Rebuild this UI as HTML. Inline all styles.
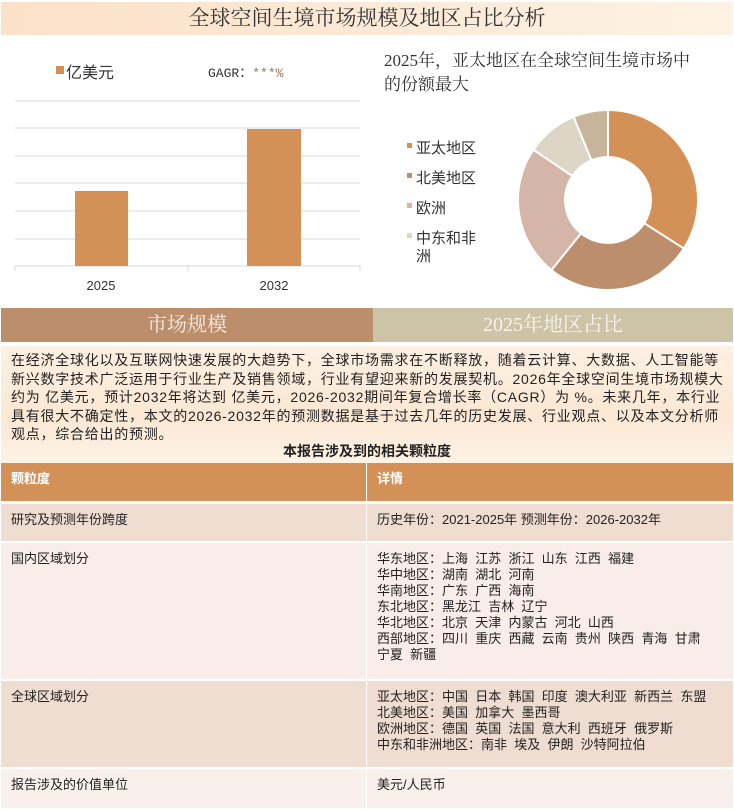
<!DOCTYPE html><html><head><meta charset="utf-8"><style>
body{margin:0;width:734px;height:810px;background:#fff;font-family:"Liberation Serif","Noto Serif CJK SC","Noto Sans CJK SC",serif;position:relative;overflow:hidden;color:#222}
.a{position:absolute}
.cell{position:absolute;font-size:13px;line-height:16px;padding:8px 10px;box-sizing:border-box;font-family:"Liberation Sans","Noto Sans CJK SC",sans-serif;white-space:pre-wrap}
</style></head><body>
<div class="a" style="left:1px;top:2px;width:732px;height:33px;background:linear-gradient(90deg,#fbe1c8,#fdf2e4);text-align:center;font-size:21px;line-height:33px;color:#333">全球空间生境市场规模及地区占比分析</div>
<svg class="a" style="left:0;top:0" width="734" height="300">
<g stroke="#d9d9d9" stroke-width="1">
<line x1="15" x2="360" y1="101" y2="101"/><line x1="15" x2="360" y1="128" y2="128"/><line x1="15" x2="360" y1="156" y2="156"/><line x1="15" x2="360" y1="183" y2="183"/><line x1="15" x2="360" y1="211" y2="211"/><line x1="15" x2="360" y1="239" y2="239"/><line x1="15" x2="360" y1="266" y2="266"/>
<line x1="15" x2="15" y1="266" y2="271"/><line x1="188" x2="188" y1="266" y2="271"/><line x1="360" x2="360" y1="266" y2="271"/></g>
<rect x="75" y="191" width="53" height="75" fill="#d49157"/>
<rect x="247" y="129" width="54" height="137" fill="#d49157"/>
<text x="101" y="290" font-size="13" text-anchor="middle" fill="#333" font-family="Liberation Sans,sans-serif">2025</text>
<text x="274" y="290" font-size="13" text-anchor="middle" fill="#333" font-family="Liberation Sans,sans-serif">2032</text>
<rect x="56" y="66" width="8" height="8" fill="#d49157"/>
<text x="66" y="78" font-size="16" fill="#333" font-family="Liberation Sans,Noto Sans CJK SC,sans-serif">亿美元</text>
<text x="208" y="77" font-size="13" fill="#333" font-family="Liberation Mono,monospace">GAGR：<tspan fill="#a0724f">***%</tspan></text>
<text x="384" y="66" font-size="17" fill="#333">2025年，亚太地区在全球空间生境市场中</text>
<text x="384" y="90" font-size="17" fill="#333">的份额最大</text>
<g font-size="15" fill="#333" font-family="Liberation Sans,Noto Sans CJK SC,sans-serif">
<rect x="407" y="143" width="5" height="5" fill="#d49157"/><text x="416" y="153">亚太地区</text>
<rect x="407" y="173" width="5" height="5" fill="#bc8e6b"/><text x="416" y="183">北美地区</text>
<rect x="407" y="203" width="5" height="5" fill="#d4b5a8"/><text x="416" y="213">欧洲</text>
<rect x="407" y="233" width="5" height="5" fill="#ddd5c5"/><text x="416" y="243">中东和非</text><text x="416" y="261">洲</text>
</g>
<g stroke="#fff" stroke-width="2" transform="translate(608,200)">
<path d="M0,-90 A90,90 0 0 1 75.8,48.5 L36.2,23.2 A43,43 0 0 0 0,-43Z" fill="#d49157"/>
<path d="M75.8,48.5 A90,90 0 0 1 -56.6,70 L-27,33.4 A43,43 0 0 0 36.2,23.2Z" fill="#bc8e6b"/>
<path d="M-56.6,70 A90,90 0 0 1 -74.6,-50.3 L-35.6,-24 A43,43 0 0 0 -27,33.4Z" fill="#d4b5a8"/>
<path d="M-74.6,-50.3 A90,90 0 0 1 -34.4,-83.2 L-16.5,-39.7 A43,43 0 0 0 -35.6,-24Z" fill="#ddd5c5"/>
<path d="M-34.4,-83.2 A90,90 0 0 1 0,-90 L0,-43 A43,43 0 0 0 -16.5,-39.7Z" fill="#c8b49a"/>
</g>
</svg>
<div class="a" style="left:1px;top:308px;width:372px;height:34px;background:#bc8e6b;color:#f8efe6;text-align:center;font-size:20px;line-height:34px">市场规模</div>
<div class="a" style="left:373px;top:308px;width:360px;height:34px;background:#cdc3a7;color:#f8f4ea;text-align:center;font-size:20px;line-height:34px">2025年地区占比</div>
<div class="a" style="left:1px;top:346px;width:732px;height:117px;background:linear-gradient(180deg,#fdf0e2,#fbe8d4 60%,#fdf2e6)"></div>
<div class="a" style="left:11px;top:351px;width:716px;font-size:14px;letter-spacing:0.75px;line-height:18.5px;color:#222;font-family:'Liberation Sans','Noto Sans CJK SC',sans-serif">在经济全球化以及互联网快速发展的大趋势下，全球市场需求在不断释放，随着云计算、大数据、人工智能等新兴数字技术广泛运用于行业生产及销售领域，行业有望迎来新的发展契机。2026年全球空间生境市场规模大约为 亿美元，预计2032年将达到 亿美元，2026-2032期间年复合增长率（CAGR）为 %。未来几年，本行业具有很大不确定性，本文的2026-2032年的预测数据是基于过去几年的历史发展、行业观点、以及本文分析师观点，综合给出的预测。</div>
<div class="a" style="left:0;top:441px;width:734px;text-align:center;font-size:14px;font-weight:bold;font-family:'Liberation Sans','Noto Sans CJK SC',sans-serif">本报告涉及到的相关颗粒度</div>
<div class="cell" style="left:1px;top:463px;width:365px;height:38px;background:#d49157;color:#fff;font-weight:bold">颗粒度</div>
<div class="cell" style="left:367px;top:463px;width:366px;height:38px;background:#d49157;color:#fff;font-weight:bold">详情</div>
<div class="cell" style="left:1px;top:504px;width:365px;height:37px;background:#f0ddd2">研究及预测年份跨度</div>
<div class="cell" style="left:367px;top:504px;width:366px;height:37px;background:#f0ddd2">历史年份：2021-2025年 预测年份：2026-2032年</div>
<div class="cell" style="left:1px;top:543px;width:365px;height:136px;background:#f8ede8">国内区域划分</div>
<div class="cell" style="left:367px;top:543px;width:366px;height:136px;background:#f8ede8">华东地区：上海  江苏  浙江  山东  江西  福建
华中地区：湖南  湖北  河南
华南地区：广东  广西  海南
东北地区：黑龙江  吉林  辽宁
华北地区：北京  天津  内蒙古  河北  山西
西部地区：四川  重庆  西藏  云南  贵州  陕西  青海  甘肃
宁夏  新疆</div>
<div class="cell" style="left:1px;top:681px;width:365px;height:86px;background:#f0ddd2">全球区域划分</div>
<div class="cell" style="left:367px;top:681px;width:366px;height:86px;background:#f0ddd2">亚太地区：中国  日本  韩国  印度  澳大利亚  新西兰  东盟
北美地区：美国  加拿大  墨西哥
欧洲地区：德国  英国  法国  意大利  西班牙  俄罗斯
中东和非洲地区：南非  埃及  伊朗  沙特阿拉伯</div>
<div class="cell" style="left:1px;top:769px;width:365px;height:39px;background:#f9efeb">报告涉及的价值单位</div>
<div class="cell" style="left:367px;top:769px;width:366px;height:39px;background:#f9efeb">美元/人民币</div>
</body></html>
